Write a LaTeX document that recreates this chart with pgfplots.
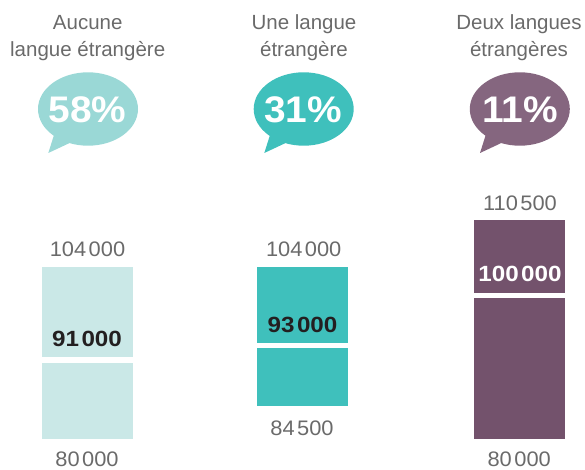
\documentclass[border=0pt]{standalone}
\usepackage{pgfplots}
\pgfplotsset{compat=1.18}
\usepackage{fontspec}
\setmainfont{Liberation Sans}
\definecolor{bubA}{HTML}{9AD8D6}
\definecolor{bubB}{HTML}{3FC0BC}
\definecolor{bubC}{HTML}{85667F}
\definecolor{barA}{HTML}{CAE8E7}
\definecolor{barB}{HTML}{3FC0BC}
\definecolor{barC}{HTML}{73526C}
\definecolor{txt}{HTML}{6A6A6A}
\definecolor{boldtxt}{HTML}{231F20}
\newcommand{\ts}{\hspace{2.5pt}}
\newcommand{\lab}[1]{\fontsize{21}{24}\selectfont\addfontfeature{FakeStretch=1.04} #1}
\newcommand{\blab}[1]{\fontsize{22}{24}\selectfont\bfseries\addfontfeature{FakeStretch=1.1} #1}
\newcommand{\pct}[1]{\fontsize{37}{40}\selectfont\bfseries\addfontfeature{FakeStretch=1.05} #1}
\newcommand{\head}[1]{\fontsize{20.5}{24}\selectfont #1}
\begin{document}
\begin{tikzpicture}
\path[use as bounding box] (0,0) rectangle (585pt,469pt);
\begin{axis}[
  at={(0,0)}, anchor=south west,
  scale only axis, width=585pt, height=469pt,
  xmin=0, xmax=585, ymin=75734, ymax=141329,
  hide axis, clip=true,
  ybar stacked, bar width=91pt,
]
\addplot[fill=none, draw=none] coordinates {(87.5,80000) (302.5,84500) (519.5,80000)};
\addplot[fill=barA, draw=none] coordinates {(87.5,24000) (302.5,0) (519.5,0)};
\addplot[fill=barB, draw=none] coordinates {(87.5,0) (302.5,19500) (519.5,0)};
\addplot[fill=barC, draw=none] coordinates {(87.5,0) (302.5,0) (519.5,30500)};
\end{axis}
\begin{axis}[
  at={(0,0)}, anchor=south west,
  scale only axis, width=585pt, height=469pt,
  xmin=0, xmax=585, ymin=75734, ymax=141329,
  hide axis, clip=true,
]
\addplot[draw=white, line width=5.6pt, mark=none] coordinates {(42,91000) (133,91000)};
\addplot[draw=white, line width=5.6pt, mark=none] coordinates {(257,93000) (348,93000)};
\addplot[draw=white, line width=5.6pt, mark=none] coordinates {(474,100000) (565,100000)};
\end{axis}
\begin{scope}[x=1pt,y=-1pt,shift={(0pt,469pt)}]
  % bubbles
  \fill[bubA] (88,109) ellipse [x radius=50, y radius=36.7];
  \fill[bubA] (54,135) -- (48.3,153) -- (69,143.3) -- (70,130) -- cycle;
  \fill[bubB] (303.7,109) ellipse [x radius=50, y radius=36.7];
  \fill[bubB] (270,135) -- (264.3,153) -- (285,143.3) -- (286,130) -- cycle;
  \fill[bubC] (519.8,109) ellipse [x radius=50, y radius=36.7];
  \fill[bubC] (485.7,135) -- (480,153) -- (500.7,143.3) -- (502,130) -- cycle;
  % percentages
  \node[anchor=base, text=white, inner sep=0pt] at (87.5,122.3) {\pct{58\%}};
  \node[anchor=base, text=white, inner sep=0pt] at (303,122.3) {\pct{31\%}};
  \node[anchor=base, text=white, inner sep=0pt] at (520.3,122.3) {\pct{11\%}};
  % headers
  \node[anchor=base, text=txt, inner sep=0pt] at (87.7,29.3) {\head{Aucune}};
  \node[anchor=base, text=txt, inner sep=0pt] at (87.7,56.5) {\head{langue étrangère}};
  \node[anchor=base, text=txt, inner sep=0pt] at (304,29.3) {\head{Une langue}};
  \node[anchor=base, text=txt, inner sep=0pt] at (304,56.5) {\head{étrangère}};
  \node[anchor=base, text=txt, inner sep=0pt] at (519,29.3) {\head{Deux langues}};
  \node[anchor=base, text=txt, inner sep=0pt] at (519,56.5) {\head{étrangères}};
  % values
  \node[anchor=base, text=txt, inner sep=0pt] at (87.5,256) {\lab{104\ts000}};
  \node[anchor=base, text=txt, inner sep=0pt] at (87,466) {\lab{80\ts000}};
  \node[anchor=base, text=txt, inner sep=0pt] at (303.7,256) {\lab{104\ts000}};
  \node[anchor=base, text=txt, inner sep=0pt] at (302,435) {\lab{84\ts500}};
  \node[anchor=base, text=txt, inner sep=0pt] at (520,210) {\lab{110\ts500}};
  \node[anchor=base, text=txt, inner sep=0pt] at (519.2,466) {\lab{80\ts000}};
  \node[anchor=base, text=boldtxt, inner sep=0pt] at (87,346.7) {\blab{91\ts000}};
  \node[anchor=base, text=boldtxt, inner sep=0pt] at (302.5,332.3) {\blab{93\ts000}};
  \node[anchor=base, text=white, inner sep=0pt] at (520,281.7) {\blab{100\ts000}};
\end{scope}
\end{tikzpicture}
\end{document}
